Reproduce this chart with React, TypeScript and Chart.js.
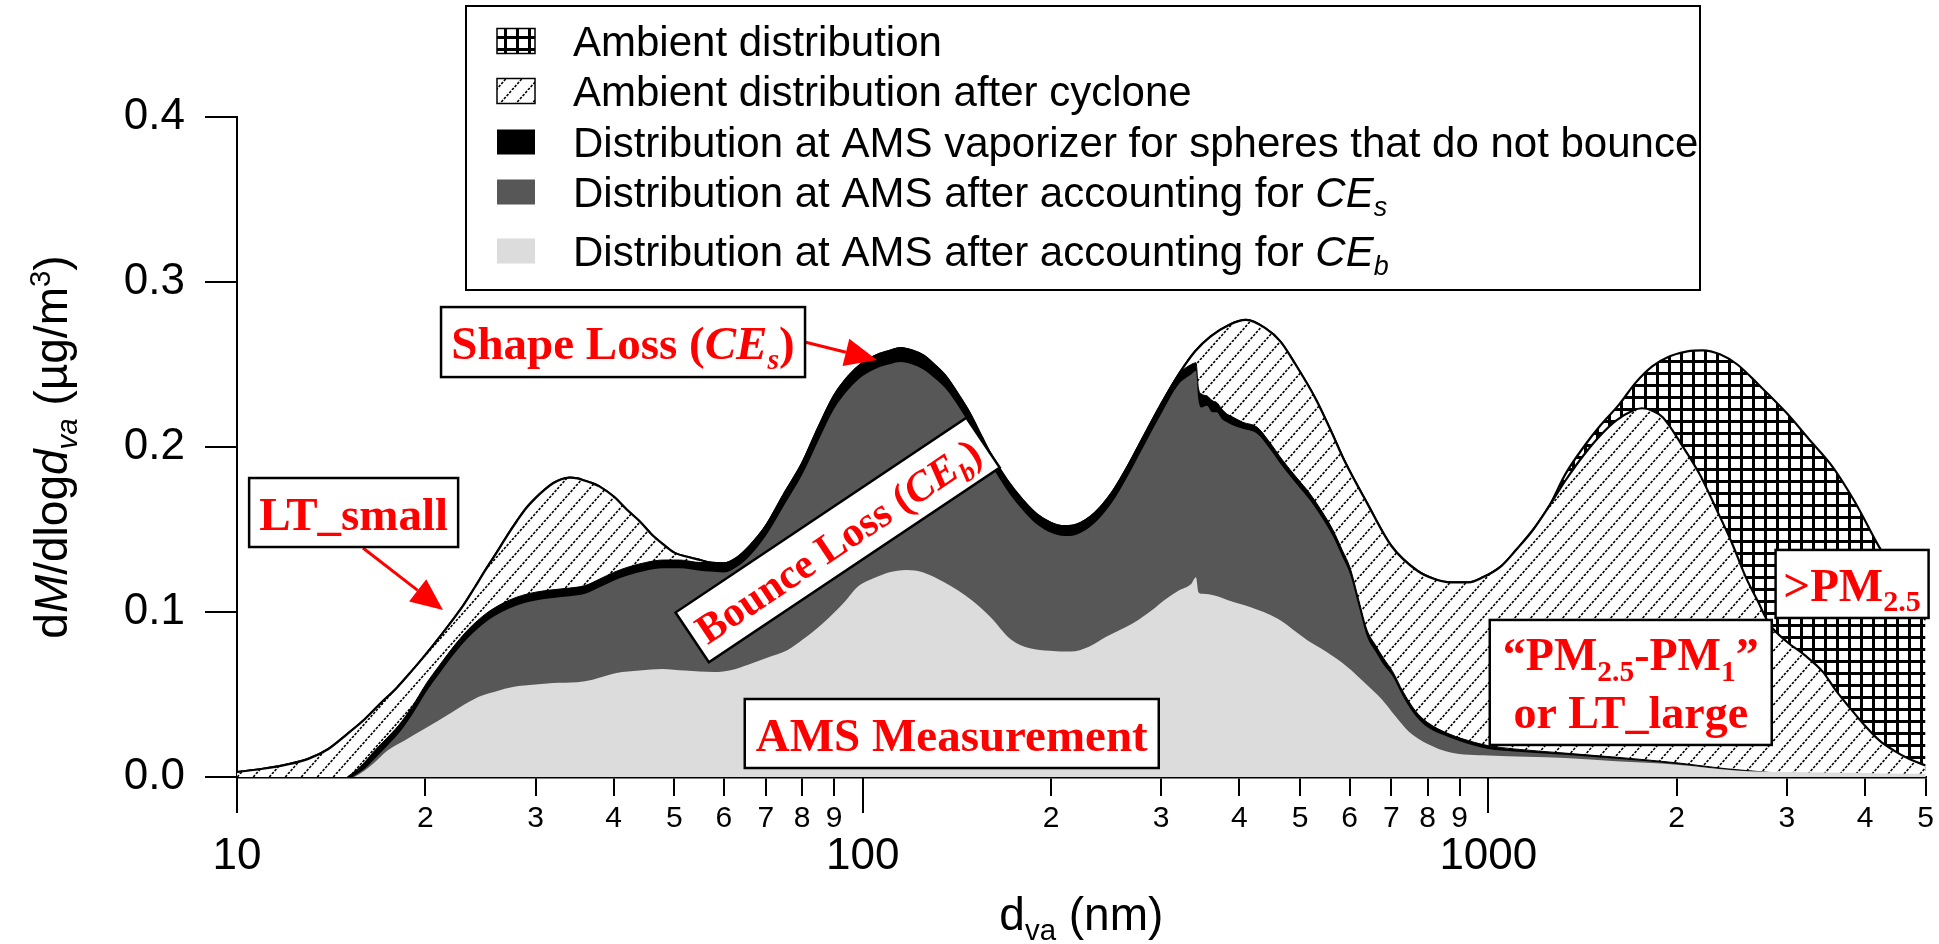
import React, { useEffect, useRef } from 'react';
import { Chart, registerables } from 'chart.js';

Chart.register(...registerables);

// ---------------- data ----------------
// Ambient distribution (grid pattern)
const AMB_X = [10, 11, 12, 13, 14, 15, 16, 17, 18, 19, 20, 21, 22, 23, 24, 25, 26, 27, 28, 29, 30, 31, 32, 33, 34, 35, 36, 37, 38, 40, 42, 44, 46, 48, 50, 53, 55, 57, 60, 63, 66, 70, 75, 80, 85, 90, 95, 100, 105, 110, 115, 120, 125, 130, 136, 142, 148, 155, 160, 170, 180, 190, 200, 210, 220, 235, 250, 265, 280, 300, 320, 340, 360, 385, 410, 440, 465, 490, 530, 560, 590, 640, 700, 770, 820, 870, 930, 980, 1050, 1110, 1180, 1250, 1330, 1420, 1510, 1620, 1720, 1830, 1950, 2080, 2200, 2350, 2500, 2700, 2990, 3250, 3550, 3850, 4220, 4600, 5000];
const AMB_Y = [0.003, 0.005, 0.0075, 0.011, 0.017, 0.026, 0.035, 0.045, 0.054, 0.064, 0.074, 0.084, 0.094, 0.104, 0.115, 0.126, 0.136, 0.146, 0.155, 0.163, 0.169, 0.174, 0.178, 0.1805, 0.1815, 0.181, 0.1795, 0.178, 0.176, 0.17, 0.162, 0.155, 0.147, 0.141, 0.136, 0.133, 0.1315, 0.13, 0.1295, 0.133, 0.14, 0.152, 0.172, 0.19, 0.212, 0.231, 0.243, 0.251, 0.2555, 0.258, 0.26, 0.2585, 0.2555, 0.25, 0.2425, 0.232, 0.221, 0.206, 0.196, 0.18, 0.168, 0.159, 0.154, 0.152, 0.153, 0.16, 0.172, 0.188, 0.205, 0.226, 0.244, 0.258, 0.267, 0.274, 0.277, 0.272, 0.264, 0.251, 0.229, 0.21, 0.191, 0.166, 0.14, 0.125, 0.12, 0.118, 0.118, 0.121, 0.128, 0.138, 0.15, 0.164, 0.184, 0.2, 0.213, 0.226, 0.239, 0.249, 0.255, 0.258, 0.2586, 0.256, 0.25, 0.238, 0.221, 0.205, 0.188, 0.167, 0.139, 0.116, 0.095];

// Ambient distribution after cyclone (diagonal hatch)
const CYC_X = [10, 11, 12, 13, 14, 15, 16, 17, 18, 19, 20, 21, 22, 23, 24, 25, 26, 27, 28, 29, 30, 31, 32, 33, 34, 35, 36, 37, 38, 40, 42, 44, 46, 48, 50, 53, 55, 57, 60, 63, 66, 70, 75, 80, 85, 90, 95, 100, 105, 110, 115, 120, 125, 130, 136, 142, 148, 155, 160, 170, 180, 190, 200, 210, 220, 235, 250, 265, 280, 300, 320, 340, 360, 385, 410, 440, 465, 490, 530, 560, 590, 640, 700, 770, 820, 870, 930, 980, 1050, 1110, 1180, 1250, 1330, 1420, 1510, 1600, 1700, 1760, 1830, 1900, 2040, 2180, 2310, 2450, 2580, 2700, 2810, 3000, 3200, 3420, 3600, 3800, 4000, 4220, 4450, 4700, 5000];
const CYC_Y = [0.003, 0.005, 0.0075, 0.011, 0.017, 0.026, 0.035, 0.045, 0.054, 0.064, 0.074, 0.084, 0.094, 0.104, 0.115, 0.126, 0.136, 0.146, 0.155, 0.163, 0.169, 0.174, 0.178, 0.1805, 0.1815, 0.181, 0.1795, 0.178, 0.176, 0.17, 0.162, 0.155, 0.147, 0.141, 0.136, 0.133, 0.1315, 0.13, 0.1295, 0.133, 0.14, 0.152, 0.172, 0.19, 0.212, 0.231, 0.243, 0.251, 0.2555, 0.258, 0.26, 0.2585, 0.2555, 0.25, 0.2425, 0.232, 0.221, 0.206, 0.196, 0.18, 0.168, 0.159, 0.154, 0.152, 0.153, 0.16, 0.172, 0.188, 0.205, 0.226, 0.244, 0.258, 0.267, 0.274, 0.277, 0.272, 0.264, 0.251, 0.229, 0.21, 0.191, 0.166, 0.14, 0.125, 0.12, 0.118, 0.118, 0.121, 0.128, 0.138, 0.15, 0.164, 0.18, 0.195, 0.207, 0.216, 0.222, 0.2235, 0.222, 0.218, 0.201, 0.183, 0.163, 0.142, 0.121, 0.106, 0.093, 0.082, 0.074, 0.064, 0.052, 0.041, 0.031, 0.022, 0.016, 0.011, 0.007];

// Distribution at AMS vaporizer for spheres that do not bounce (black)
const VAP_X = [15, 15.5, 16, 16.6, 17.3, 18.1, 19, 20.1, 21, 22.4, 23.5, 25, 26.5, 28, 30, 32, 34, 36, 38, 40, 42, 45, 48, 51, 55, 57, 60, 63, 66, 70, 75, 80, 85, 90, 95, 100, 105, 110, 115, 120, 125, 130, 136, 142, 148, 155, 160, 170, 180, 190, 200, 210, 220, 235, 250, 265, 280, 300, 320, 335, 341, 344, 348, 355, 362, 368, 375, 382, 391, 405, 427, 445, 469, 495, 518, 540, 564, 585, 601, 621, 640, 660, 680, 703, 730, 765, 800, 867, 950, 1000, 1100, 1325, 1600, 2013, 2400, 2768, 3100, 3500, 4000, 5000];
const VAP_Y = [0, 0.004, 0.009, 0.016, 0.023, 0.031, 0.042, 0.057, 0.067, 0.081, 0.09, 0.099, 0.105, 0.109, 0.112, 0.1135, 0.1145, 0.116, 0.12, 0.124, 0.127, 0.13, 0.1315, 0.1315, 0.13, 0.13, 0.1295, 0.133, 0.14, 0.152, 0.172, 0.19, 0.212, 0.231, 0.243, 0.251, 0.2555, 0.258, 0.26, 0.2585, 0.2555, 0.25, 0.2425, 0.232, 0.221, 0.206, 0.196, 0.18, 0.168, 0.159, 0.154, 0.152, 0.153, 0.16, 0.172, 0.188, 0.205, 0.226, 0.244, 0.25, 0.251, 0.236, 0.232, 0.231, 0.228, 0.227, 0.223, 0.22, 0.218, 0.215, 0.212, 0.204, 0.192, 0.181, 0.172, 0.162, 0.15, 0.137, 0.127, 0.107, 0.089, 0.08, 0.072, 0.064, 0.052, 0.04, 0.033, 0.026, 0.021, 0.019, 0.017, 0.0145, 0.012, 0.0085, 0.005, 0.003, 0.0015, 0.0008, 0.0003, 0];

// Distribution at AMS after accounting for CE_s (dark grey)
const SHP_X = [15.3, 16, 16.6, 17.3, 18.1, 19, 20.1, 21, 22.4, 23.5, 25, 26.5, 28, 30, 32, 34, 36, 38, 40, 42, 45, 48, 51, 55, 57, 60, 63, 66, 70, 75, 80, 85, 90, 95, 100, 105, 110, 115, 120, 125, 130, 136, 142, 148, 155, 160, 170, 180, 190, 200, 210, 220, 235, 250, 265, 280, 300, 320, 335, 341, 344, 348, 355, 362, 368, 375, 382, 391, 405, 427, 445, 469, 495, 518, 540, 564, 585, 601, 621, 640, 660, 680, 703, 730, 765, 800, 867, 950, 1000, 1100, 1325, 1600, 2013, 2400, 2768, 3100, 3500, 4000, 5000];
const SHP_Y = [0, 0.005, 0.011, 0.018, 0.026, 0.037, 0.052, 0.062, 0.076, 0.085, 0.094, 0.1, 0.104, 0.107, 0.1085, 0.1095, 0.111, 0.115, 0.119, 0.122, 0.125, 0.1265, 0.1265, 0.125, 0.1245, 0.124, 0.1275, 0.134, 0.146, 0.165, 0.183, 0.204, 0.223, 0.235, 0.243, 0.2475, 0.25, 0.2515, 0.25, 0.247, 0.242, 0.235, 0.225, 0.214, 0.2, 0.19, 0.174, 0.162, 0.153, 0.148, 0.146, 0.147, 0.154, 0.166, 0.182, 0.199, 0.22, 0.238, 0.244, 0.246, 0.229, 0.224, 0.225, 0.221, 0.221, 0.217, 0.215, 0.213, 0.211, 0.208, 0.2, 0.188, 0.177, 0.168, 0.158, 0.146, 0.133, 0.123, 0.103, 0.085, 0.076, 0.068, 0.061, 0.049, 0.037, 0.03, 0.024, 0.019, 0.017, 0.0155, 0.0135, 0.011, 0.0078, 0.0045, 0.0025, 0.001, 0.0005, 0.0002, 0];

// Distribution at AMS after accounting for CE_b (light grey)
const BNC_X = [15.4, 16, 16.5, 17.4, 18.5, 20.1, 22, 24.3, 26, 27.6, 30, 32, 35, 37, 40.4, 44, 47.8, 52, 57.8, 62, 65.6, 70, 75.9, 80, 86.3, 94, 98, 105, 110, 117.5, 125, 135, 149.6, 160, 173, 185, 199, 215, 230, 245, 270, 292, 303, 320, 335, 341, 344, 350, 365, 385, 416, 460, 513, 550, 594, 635, 676, 710, 749, 800, 867, 1000, 1325, 1600, 2000, 2485, 3000, 4000, 4677, 5000];
const BNC_Y = [0, 0.004, 0.008, 0.016, 0.022, 0.03, 0.039, 0.0485, 0.052, 0.0545, 0.056, 0.057, 0.0575, 0.059, 0.063, 0.0645, 0.0655, 0.0645, 0.0636, 0.065, 0.068, 0.072, 0.077, 0.083, 0.093, 0.107, 0.115, 0.121, 0.124, 0.1255, 0.124, 0.118, 0.107, 0.097, 0.083, 0.078, 0.0765, 0.076, 0.079, 0.085, 0.093, 0.102, 0.107, 0.113, 0.117, 0.121, 0.112, 0.111, 0.11, 0.107, 0.103, 0.096, 0.083, 0.076, 0.067, 0.057, 0.047, 0.037, 0.027, 0.02, 0.015, 0.013, 0.0115, 0.0095, 0.0075, 0.004, 0.003, 0.0025, 0.002, 0.002];

// axes
const X_TICKS = [10, 20, 30, 40, 50, 60, 70, 80, 90, 100, 200, 300, 400, 500, 600, 700, 800, 900, 1000, 2000, 3000, 4000, 5000];
const X_TICK_LABELS = ['10', '2', '3', '4', '5', '6', '7', '8', '9', '100', '2', '3', '4', '5', '6', '7', '8', '9', '1000', '2', '3', '4', '5'];
const X_MAJOR = [10, 100, 1000];
const Y_TICKS = [0, 0.1, 0.2, 0.3, 0.4];
const Y_TICK_LABELS = ['0.0', '0.1', '0.2', '0.3', '0.4'];

const LEGEND_LABELS = [
  'Ambient distribution',
  'Ambient distribution after cyclone',
  'Distribution at AMS vaporizer for spheres that do not bounce',
  'Distribution at AMS after accounting for ',
  'Distribution at AMS after accounting for ',
];

// ---------------- styles ----------------
const W = 1939;
const H = 944;
const SANS = '"Liberation Sans", Arial, Helvetica, sans-serif';
const SERIF = '"Liberation Serif", "Times New Roman", Times, serif';
const RED = '#ff0000';
const DARK = '#575757';
const LIGHT = '#dcdcdc';

type Run = { t: string; italic?: boolean; bold?: boolean; sub?: boolean; sup?: boolean };

function runFont(r: Run, size: number, family: string) {
  const s = r.sub || r.sup ? size * 0.64 : size;
  return `${r.italic ? 'italic ' : ''}${r.bold ? 'bold ' : ''}${s}px ${family}`;
}
function runsWidth(ctx: CanvasRenderingContext2D, runs: Run[], size: number, family: string) {
  let w = 0;
  for (const r of runs) {
    ctx.font = runFont(r, size, family);
    w += ctx.measureText(r.t).width;
  }
  return w;
}
function drawRuns(ctx: CanvasRenderingContext2D, runs: Run[], x: number, y: number, align: 'left' | 'center', size: number, family: string, color: string) {
  const w = runsWidth(ctx, runs, size, family);
  let cx = align === 'center' ? x - w / 2 : x;
  ctx.textAlign = 'left';
  ctx.textBaseline = 'alphabetic';
  ctx.fillStyle = color;
  for (const r of runs) {
    ctx.font = runFont(r, size, family);
    const dy = r.sub ? size * 0.22 : r.sup ? -size * 0.38 : 0;
    ctx.fillText(r.t, cx, y + dy);
    cx += ctx.measureText(r.t).width;
  }
}

function makeHatch(): CanvasPattern {
  const w = 16;
  const h = 18;
  const c = document.createElement('canvas');
  c.width = w;
  c.height = h;
  const g = c.getContext('2d')!;
  g.fillStyle = '#fff';
  g.fillRect(0, 0, w, h);
  g.strokeStyle = '#000';
  g.lineWidth = 1.6;
  g.setLineDash([2.6, 1.4]);
  for (const o of [-w, 0, w]) {
    g.beginPath();
    g.moveTo(o, h);
    g.lineTo(o + w, 0);
    g.stroke();
  }
  return g.createPattern(c, 'repeat')!;
}
function makeGrid(): CanvasPattern {
  const s = 12;
  const c = document.createElement('canvas');
  c.width = s;
  c.height = s;
  const g = c.getContext('2d')!;
  g.fillStyle = '#fff';
  g.fillRect(0, 0, s, s);
  g.fillStyle = '#000';
  g.fillRect(0, 0, s, 3);
  g.fillRect(0, 0, 3, s);
  return g.createPattern(c, 'repeat')!;
}

const ANN_SIZE = 47;
const ANNOTATIONS: {
  at: [number, number];
  w: number;
  h: number;
  rot?: number;
  size?: number;
  lines: { dy: number; runs: Run[] }[];
  arrow?: [[number, number], [number, number]];
}[] = [
  { at: [15.36, 0.1603], w: 209, h: 69, lines: [{ dy: 17, runs: [{ t: 'LT_small', bold: true }] }], arrow: [[15.9, 0.1388], [21.34, 0.1012]] },
  {
    at: [41.4, 0.2636], w: 364, h: 70,
    lines: [{ dy: 17, runs: [{ t: 'Shape Loss (', bold: true }, { t: 'CE', bold: true, italic: true }, { t: 's', bold: true, italic: true, sub: true }, { t: ')', bold: true }] }],
    arrow: [[80.8, 0.2636], [105.4, 0.2527]],
  },
  {
    at: [91.2, 0.1436], w: 350, h: 60, rot: -33.8, size: 42,
    lines: [{ dy: 15, runs: [{ t: 'Bounce Loss (', bold: true }, { t: 'CE', bold: true, italic: true }, { t: 'b', bold: true, italic: true, sub: true }, { t: ')', bold: true }] }],
  },
  { at: [138.8, 0.02636], w: 414, h: 69, lines: [{ dy: 17, runs: [{ t: 'AMS Measurement', bold: true }] }] },
  {
    at: [1689, 0.0573], w: 282, h: 125, size: 46,
    lines: [
      { dy: -12, runs: [{ t: '\u201cPM', bold: true }, { t: '2.5', bold: true, sub: true }, { t: '-PM', bold: true }, { t: '1', bold: true, sub: true }, { t: '\u201d', bold: true }] },
      { dy: 46, runs: [{ t: 'or LT_large', bold: true }] },
    ],
  },
  { at: [3814, 0.117], w: 153, h: 68, lines: [{ dy: 17, runs: [{ t: '>PM', bold: true }, { t: '2.5', bold: true, sub: true }] }] },
];

const LEGEND = { x: 466, y: 6, w: 1234, h: 284, swX: 497, swW: 38, swH: 25, textX: 573, rows: [41, 91, 142, 192, 251], size: 42 };

function drawArrow(ctx: CanvasRenderingContext2D, x1: number, y1: number, x2: number, y2: number) {
  const a = Math.atan2(y2 - y1, x2 - x1);
  const L = 32;
  const Wd = 14;
  const bx = x2 - L * Math.cos(a);
  const by = y2 - L * Math.sin(a);
  ctx.strokeStyle = RED;
  ctx.lineWidth = 3;
  ctx.beginPath();
  ctx.moveTo(x1, y1);
  ctx.lineTo(bx, by);
  ctx.stroke();
  ctx.fillStyle = RED;
  ctx.beginPath();
  ctx.moveTo(x2, y2);
  ctx.lineTo(bx + Wd * Math.sin(a), by - Wd * Math.cos(a));
  ctx.lineTo(bx - Wd * Math.sin(a), by + Wd * Math.cos(a));
  ctx.closePath();
  ctx.fill();
}

function pts(xs: number[], ys: number[]) {
  return xs.map((x, i) => ({ x, y: ys[i] }));
}

export default function App() {
  const ref = useRef<HTMLCanvasElement>(null);
  useEffect(() => {
    const canvas = ref.current!;
    const hatch = makeHatch();
    const grid = makeGrid();

    const overlay = {
      id: 'overlay',
      afterDraw(chart: any) {
        const ctx: CanvasRenderingContext2D = chart.ctx;
        const xs = chart.scales.x;
        const ys = chart.scales.y;
        const X = (v: number) => xs.getPixelForValue(v);
        const Y = (v: number) => ys.getPixelForValue(v);
        const area = chart.chartArea;
        ctx.save();
        // longer major ticks
        ctx.strokeStyle = '#000';
        ctx.lineWidth = 2;
        for (const v of X_MAJOR) {
          const px = Math.round(X(v));
          ctx.beginPath();
          ctx.moveTo(px, area.bottom);
          ctx.lineTo(px, area.bottom + 36);
          ctx.stroke();
        }
        // axis titles
        drawRuns(ctx, [{ t: 'd' }, { t: 'va', sub: true }, { t: ' (nm)' }], (area.left + area.right) / 2, 930, 'center', 46, SANS, '#000');
        ctx.save();
        ctx.translate(67, (area.top + area.bottom) / 2);
        ctx.rotate(-Math.PI / 2);
        drawRuns(ctx, [{ t: 'd' }, { t: 'M', italic: true }, { t: '/dlog' }, { t: 'd', italic: true }, { t: 'va', italic: true, sub: true }, { t: ' (\u00b5g/m' }, { t: '3', sup: true }, { t: ')' }], 0, 0, 'center', 46, SANS, '#000');
        ctx.restore();

        // legend
        const L = LEGEND;
        ctx.fillStyle = '#fff';
        ctx.fillRect(L.x, L.y, L.w, L.h);
        ctx.strokeStyle = '#000';
        ctx.lineWidth = 2;
        ctx.strokeRect(L.x, L.y, L.w, L.h);
        const fills: (string | CanvasPattern)[] = [grid, hatch, '#000', DARK, LIGHT];
        L.rows.forEach((cy, i) => {
          const sy = cy - L.swH / 2;
          ctx.fillStyle = fills[i];
          ctx.fillRect(L.swX, sy, L.swW, L.swH);
          if (i < 2) {
            ctx.strokeStyle = '#000';
            ctx.lineWidth = 1.5;
            ctx.strokeRect(L.swX, sy, L.swW, L.swH);
          }
          const runs: Run[] = [{ t: LEGEND_LABELS[i] }];
          if (i === 3) runs.push({ t: 'CE', italic: true }, { t: 's', italic: true, sub: true });
          if (i === 4) runs.push({ t: 'CE', italic: true }, { t: 'b', italic: true, sub: true });
          drawRuns(ctx, runs, L.textX, cy + 15, 'left', L.size, SANS, '#000');
        });

        // annotations
        for (const a of ANNOTATIONS) {
          if (a.arrow) drawArrow(ctx, X(a.arrow[0][0]), Y(a.arrow[0][1]), X(a.arrow[1][0]), Y(a.arrow[1][1]));
        }
        for (const a of ANNOTATIONS) {
          const cx = X(a.at[0]);
          const cy = Y(a.at[1]);
          ctx.save();
          ctx.translate(cx, cy);
          if (a.rot) ctx.rotate((a.rot * Math.PI) / 180);
          ctx.fillStyle = '#fff';
          ctx.fillRect(-a.w / 2, -a.h / 2, a.w, a.h);
          ctx.strokeStyle = '#000';
          ctx.lineWidth = 2.5;
          ctx.strokeRect(-a.w / 2, -a.h / 2, a.w, a.h);
          for (const ln of a.lines) drawRuns(ctx, ln.runs, 0, ln.dy, 'center', a.size ?? ANN_SIZE, SERIF, RED);
          ctx.restore();
        }
        ctx.restore();
      },
    };

    const common = { pointRadius: 0, pointHoverRadius: 0, fill: 'origin', cubicInterpolationMode: 'monotone' as const };
    const chart = new Chart(canvas, {
      type: 'line',
      data: {
        datasets: [
          { ...common, label: 'after CE_b', data: pts(BNC_X, BNC_Y), backgroundColor: LIGHT, borderWidth: 0, borderColor: LIGHT },
          { ...common, label: 'after CE_s', data: pts(SHP_X, SHP_Y), backgroundColor: DARK, borderWidth: 0, borderColor: DARK },
          { ...common, label: 'vaporizer', data: pts(VAP_X, VAP_Y), backgroundColor: '#000', borderWidth: 1, borderColor: '#000' },
          { ...common, label: 'after cyclone', data: pts(CYC_X, CYC_Y), backgroundColor: hatch, borderWidth: 2.2, borderColor: '#000' },
          { ...common, label: 'ambient', data: pts(AMB_X, AMB_Y), backgroundColor: grid, borderWidth: 2.2, borderColor: '#000' },
        ] as any,
      },
      options: {
        responsive: false,
        maintainAspectRatio: false,
        devicePixelRatio: 1,
        animation: false,
        events: [],
        layout: { padding: { left: 0, top: 117, right: 13, bottom: 0 } },
        plugins: { legend: { display: false }, tooltip: { enabled: false }, title: { display: false } },
        scales: {
          x: {
            type: 'logarithmic',
            min: 10,
            max: 5000,
            z: 1,
            afterBuildTicks: (s: any) => {
              s.ticks = X_TICKS.map((v) => ({ value: v, major: X_MAJOR.includes(v) }));
            },
            afterFit: (s: any) => {
              s.height = H - 777;
            },
            ticks: {
              autoSkip: false,
              maxRotation: 0,
              minRotation: 0,
              padding: 5,
              color: '#000',
              callback: (_v: any, i: number) => (X_MAJOR.includes(X_TICKS[i]) ? ['', X_TICK_LABELS[i]] : X_TICK_LABELS[i]),
              font: (ctx: any) =>
                ctx.tick && X_MAJOR.includes(ctx.tick.value)
                  ? { family: SANS, size: 44, lineHeight: 0.85 }
                  : { family: SANS, size: 30, lineHeight: 1.2 },
            },
            grid: { drawOnChartArea: false, drawTicks: true, tickLength: 19, color: '#000', lineWidth: 2 },
            border: { display: true, color: '#000', width: 2.5 },
          } as any,
          y: {
            type: 'linear',
            min: 0,
            max: 0.4,
            z: 1,
            afterBuildTicks: (s: any) => {
              s.ticks = Y_TICKS.map((v) => ({ value: v }));
            },
            afterFit: (s: any) => {
              s.width = 237;
            },
            ticks: {
              padding: 20,
              color: '#000',
              callback: (_v: any, i: number) => Y_TICK_LABELS[i],
              font: { family: SANS, size: 44 },
            },
            grid: { drawOnChartArea: false, drawTicks: true, tickLength: 32, color: '#000', lineWidth: 2 },
            border: { display: true, color: '#000', width: 2 },
          } as any,
        },
      },
      plugins: [overlay],
    });
    return () => chart.destroy();
  }, []);

  return (
    <div style={{ position: 'fixed', left: 0, top: 0, width: W, height: H, background: '#fff' }}>
      <canvas ref={ref} width={W} height={H} style={{ width: W, height: H, display: 'block' }} />
    </div>
  );
}
